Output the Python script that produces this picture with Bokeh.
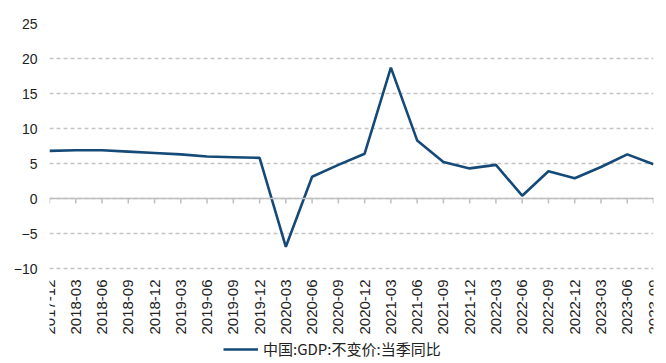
from bokeh.plotting import figure
from bokeh.models import Range1d, FixedTicker, Span, Legend, LegendItem
from bokeh.core.properties import value
from bokeh.embed import file_html
from bokeh.resources import INLINE
import math

categories = ["2017-12", "2018-03", "2018-06", "2018-09", "2018-12", "2019-03",
              "2019-06", "2019-09", "2019-12", "2020-03", "2020-06", "2020-09",
              "2020-12", "2021-03", "2021-06", "2021-09", "2021-12", "2022-03",
              "2022-06", "2022-09", "2022-12", "2023-03", "2023-06", "2023-09"]
gdp_yoy = [6.8, 6.9, 6.9, 6.7, 6.5, 6.3, 6.0, 5.9, 5.8, -6.9, 3.1, 4.8,
           6.4, 18.7, 8.3, 5.2, 4.3, 4.8, 0.4, 3.9, 2.9, 4.5, 6.3, 4.9]
y_ticks = [-10, -5, 0, 5, 10, 15, 20, 25]
series_name = "中国:GDP:不变价:当季同比"

xs = list(range(len(categories)))

# frame spans down to the bottom of the figure so that the category labels
# and the legend can sit under the -10 gridline; 7 px per unit
Y_TOP = 25
Y_BOTTOM = Y_TOP - 340 / 7.0
LABEL_Y = Y_TOP - (279 - 23) / 7.0

p = figure(width=666, height=363, output_backend="svg", toolbar_location=None,
           x_range=Range1d(0, len(categories) - 1), y_range=Range1d(Y_BOTTOM, Y_TOP),
           x_axis_location=None,
           min_border_left=49, min_border_right=13, min_border_top=23,
           min_border_bottom=0)
p.outline_line_color = None
p.background_fill_color = "white"
p.border_fill_color = "white"

# grid
p.xgrid.grid_line_color = None
p.ygrid.ticker = FixedTicker(ticks=y_ticks)
p.ygrid.grid_line_color = "#c4c4c4"
p.ygrid.grid_line_dash = "4 3"
p.ygrid.grid_line_width = 1.5

# y axis
p.yaxis.ticker = FixedTicker(ticks=y_ticks)
p.yaxis.axis_line_color = None
p.yaxis.major_tick_line_color = None
p.yaxis.minor_tick_line_color = None
p.yaxis.major_tick_out = 0
p.yaxis.major_tick_in = 0
p.yaxis.major_label_text_font = "Liberation Sans"
p.yaxis.major_label_text_font_size = "14px"
p.yaxis.major_label_text_color = "#222222"
p.yaxis.major_label_standoff = 12

# zero axis line with tick marks
p.add_layout(Span(location=0, dimension="width", line_color="#bfbfbf", line_width=1.5))
p.segment(x0=xs, y0=[0] * len(xs), x1=xs, y1=[-0.7] * len(xs),
          line_color="#bfbfbf", line_width=1.5)

# category labels, rotated, under the plot area
p.text(x=xs, y=[LABEL_Y] * len(xs), text=categories, angle=math.pi / 2,
       text_align="right", text_baseline="middle",
       text_font=value("Liberation Sans"), text_font_size=value("15px"),
       text_color="#222222")

r = p.line(xs, gdp_yoy, line_color="#154a78", line_width=2.6)

legend = Legend(items=[LegendItem(label=series_name, renderers=[r])],
                location=(174, 4), orientation="horizontal",
                label_text_font="Noto Sans CJK SC", label_text_font_size="15px",
                label_text_color="#222222", glyph_width=35, glyph_height=12,
                label_height=12, padding=0, margin=0, spacing=0,
                border_line_color=None, background_fill_alpha=0,
                label_standoff=5)
p.add_layout(legend)

open("out.html", "w").write(file_html(p, INLINE))
